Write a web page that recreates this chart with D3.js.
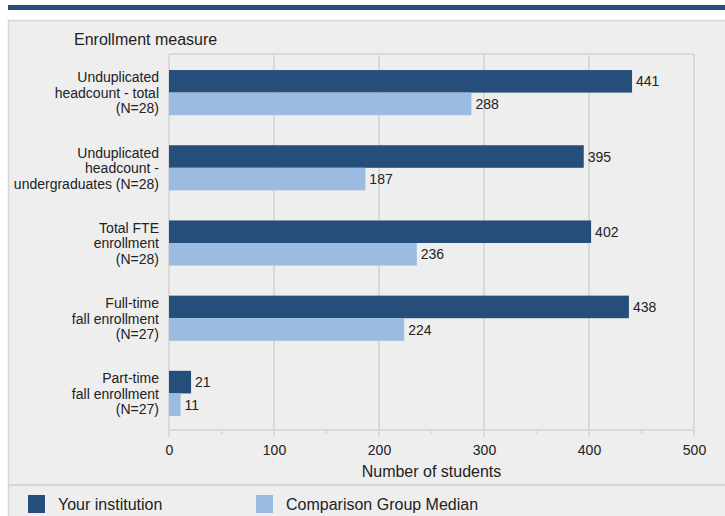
<!DOCTYPE html>
<html><head><meta charset="utf-8">
<script src="https://cdn.jsdelivr.net/npm/d3@7/dist/d3.min.js"></script>
<style>body{margin:0;background:#fff;}svg{display:block;font-family:"Liberation Sans",Arial,sans-serif;}</style>
</head><body>
<svg id="c" width="725" height="516"></svg>
<script>
const categories = [
  ["Unduplicated", "headcount - total", "(N=28)"],
  ["Unduplicated", "headcount -", "undergraduates (N=28)"],
  ["Total FTE", "enrollment", "(N=28)"],
  ["Full-time", "fall enrollment", "(N=27)"],
  ["Part-time", "fall enrollment", "(N=27)"]
];
const seriesNames = ["Your institution", "Comparison Group Median"];
const yourInstitution = [441, 395, 402, 438, 21];
const comparisonMedian = [288, 187, 236, 224, 11];
const xTicks = [0, 100, 200, 300, 400, 500];
const minorTicks = [50, 150, 250, 350, 450];
const colors = ["#254f7a", "#9bbbe0"];

const svg = d3.select("#c");
// top band
svg.append("rect").attr("x", 8).attr("y", 5).attr("width", 717).attr("height", 5).attr("fill", "#254f7a");
// panel
svg.append("rect").attr("x", 8.5).attr("y", 20.5).attr("width", 720).attr("height", 500)
  .attr("fill", "#eeeeee").attr("stroke", "#d6d6d6").attr("stroke-width", 1.5);

const x = d3.scaleLinear().domain([0, 500]).range([169, 694]);
const idx = categories.map((d, i) => i);
const y = d3.scaleBand().domain(idx).range([55, 431]).paddingInner(0.4).paddingOuter(0.2);
const sub = d3.scaleBand().domain([0, 1]).range([0, y.bandwidth()]);

// grid
const g = svg.append("g");
g.selectAll("line.grid").data(xTicks).join("line")
  .attr("x1", d => x(d)).attr("x2", d => x(d)).attr("y1", 54).attr("y2", 437)
  .attr("stroke", "#d9d9d9").attr("stroke-width", 2);
g.append("line").attr("x1", x(0)).attr("x2", x(500)).attr("y1", 54).attr("y2", 54)
  .attr("stroke", "#d9d9d9").attr("stroke-width", 2);
g.append("line").attr("x1", x(0)).attr("x2", x(500)).attr("y1", 430).attr("y2", 430)
  .attr("stroke", "#d9d9d9").attr("stroke-width", 2);
g.selectAll("line.minor").data(minorTicks).join("line")
  .attr("x1", d => x(d)).attr("x2", d => x(d)).attr("y1", 430).attr("y2", 434)
  .attr("stroke", "#d9d9d9").attr("stroke-width", 2);

// x axis labels
const axis = d3.axisBottom(x).tickValues(xTicks).tickSize(0).tickPadding(0);
const ag = svg.append("g").attr("transform", "translate(0,445)").call(axis);
ag.select(".domain").remove();
ag.selectAll("text").attr("font-size", 14).attr("fill", "#222").attr("dy", "0.71em")
  .attr("font-family", "Liberation Sans, Arial, sans-serif");

svg.append("text").attr("x", x(250)).attr("y", 477).attr("text-anchor", "middle")
  .attr("font-size", 16).attr("fill", "#222").text("Number of students");
svg.append("text").attr("x", 74).attr("y", 45).attr("font-size", 16).attr("fill", "#222").text("Enrollment measure");

// bars
const series = [yourInstitution, comparisonMedian];
series.forEach((vals, s) => {
  const bg = svg.append("g");
  bg.selectAll("rect").data(vals).join("rect")
    .attr("x", x(0)).attr("y", (d, i) => y(i) + sub(s))
    .attr("width", d => x(d) - x(0)).attr("height", sub.bandwidth())
    .attr("fill", colors[s]);
  bg.selectAll("text").data(vals).join("text")
    .attr("x", d => x(d) + 4).attr("y", (d, i) => y(i) + sub(s) + sub.bandwidth() / 2)
    .attr("dy", "0.36em").attr("font-size", 14).attr("fill", "#222").text(d => d);
});

// category labels
const lg = svg.append("g");
categories.forEach((lines, i) => {
  const cy = y(i) + y.bandwidth() / 2;
  const t = lg.append("text").attr("text-anchor", "end").attr("font-size", 14).attr("fill", "#222");
  lines.forEach((ln, j) => {
    t.append("tspan").attr("x", 159).attr("y", cy + (j - 1) * 15.5).attr("dy", "0.38em").text(ln);
  });
});

// separator
svg.append("line").attr("x1", 8).attr("x2", 725).attr("y1", 485).attr("y2", 485)
  .attr("stroke", "#d6d6d6").attr("stroke-width", 2);

// legend
const legX = [28, 256];
seriesNames.forEach((n, s) => {
  svg.append("rect").attr("x", legX[s]).attr("y", 495).attr("width", 17).attr("height", 18).attr("fill", colors[s]);
  svg.append("text").attr("x", legX[s] + 30).attr("y", 504).attr("dy", "0.36em")
    .attr("font-size", 16).attr("fill", "#222").text(n);
});
</script>
</body></html>
